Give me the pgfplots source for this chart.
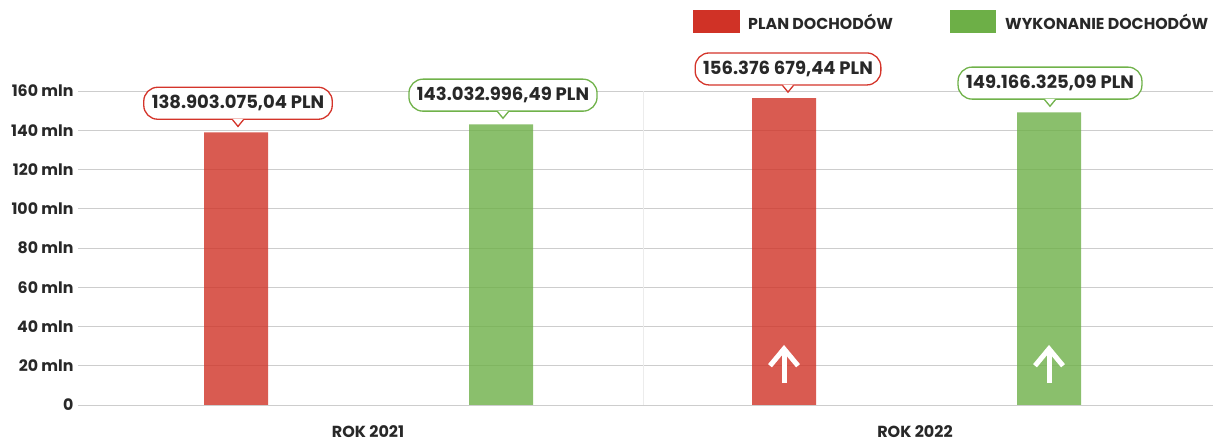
\documentclass[border=0pt]{standalone}
\usepackage{pgfplots}
\pgfplotsset{compat=1.18}
\usepackage{fontspec}
\setmainfont{Poppins}
\definecolor{legred}{RGB}{208,50,38}
\definecolor{leggreen}{RGB}{109,175,71}
\definecolor{boxred}{RGB}{212,52,42}
\definecolor{boxgreen}{RGB}{112,178,74}
\definecolor{txt}{RGB}{40,40,40}
\definecolor{gridc}{RGB}{205,205,205}
\newcommand{\callout}[4]{%
  \node[draw=#3, line width=1.3pt, fill=white, rounded corners=14pt, inner xsep=8pt,
        minimum height=32pt, anchor=south, text=txt,
        font=\bfseries\fontsize{18}{18}\selectfont] (cb) at (axis cs:#1,#2) [yshift=12.5pt] {#4};
  \fill[white] ([xshift=-5.5pt,yshift=1pt]cb.south) -- ([yshift=-6.5pt]cb.south) -- ([xshift=5.5pt,yshift=1pt]cb.south) -- cycle;
  \draw[#3, line width=1.3pt] ([xshift=-5.5pt,yshift=0.2pt]cb.south) -- ([yshift=-6.5pt]cb.south) -- ([xshift=5.5pt,yshift=0.2pt]cb.south);
}
\newcommand{\uparr}[1]{%
  \draw[white, line width=5pt] (axis cs:#1,11.2) -- (axis cs:#1,27.5);
  \draw[white, line width=5pt, line join=miter] ([xshift=-14pt]axis cs:#1,20) -- (axis cs:#1,28.6) -- ([xshift=14pt]axis cs:#1,20);
}
\begin{document}
\begin{tikzpicture}[x=1pt,y=1pt]
\useasboundingbox (0,0) rectangle (1215,441);
\begin{axis}[
  at={(78pt,36pt)}, anchor=south west,
  scale only axis, width=1135pt, height=314pt,
  xmin=78, xmax=1213, ymin=0, ymax=160,
  axis line style={draw=none},
  tick style={draw=none},
  ymajorgrids, grid style={gridc, line width=0.9pt},
  ytick={0,20,...,160},
  yticklabels={0,20 mln,40 mln,60 mln,80 mln,100 mln,120 mln,140 mln,160 mln},
  yticklabel style={font=\bfseries\fontsize{15.8}{16}\selectfont, text=txt, xshift=-1pt},
  xtick={368,915},
  xticklabels={ROK 2021,ROK 2022},
  xticklabel style={font=\bfseries\fontsize{16}{16}\selectfont, text=txt, yshift=-17pt},
  extra x ticks={643}, extra x tick labels={},
  extra x tick style={xmajorgrids, grid style={gray!15, line width=0.8pt}},
  clip=false,
]
\addplot[ybar, bar shift=0pt, bar width=64, fill=legred, fill opacity=0.8, draw=none]
  coordinates {(236,138.90307504) (784,156.37667944)};
\addplot[ybar, bar shift=0pt, bar width=64, fill=leggreen, fill opacity=0.8, draw=none]
  coordinates {(501,143.03299649) (1049,149.16632509)};
\callout{238}{138.90307504}{boxred}{138.903.075,04 PLN}
\callout{503}{143.03299649}{boxgreen}{143.032.996,49 PLN}
\callout{788}{156.37667944}{boxred}{156.376 679,44 PLN}
\callout{1050}{149.16632509}{boxgreen}{149.166.325,09 PLN}
\uparr{784}
\uparr{1049}
\end{axis}
% legend
\fill[legred] (693,408) rectangle (740,431);
\node[anchor=west, text=txt, font=\bfseries\fontsize{15.8}{16}\selectfont, inner sep=0pt] at (748,419.5) {PLAN DOCHODÓW};
\fill[leggreen] (950,408) rectangle (996,431);
\node[anchor=west, text=txt, font=\bfseries\fontsize{15.8}{16}\selectfont, inner sep=0pt] at (1005,419.5) {WYKONANIE DOCHODÓW};
\end{tikzpicture}
\end{document}
